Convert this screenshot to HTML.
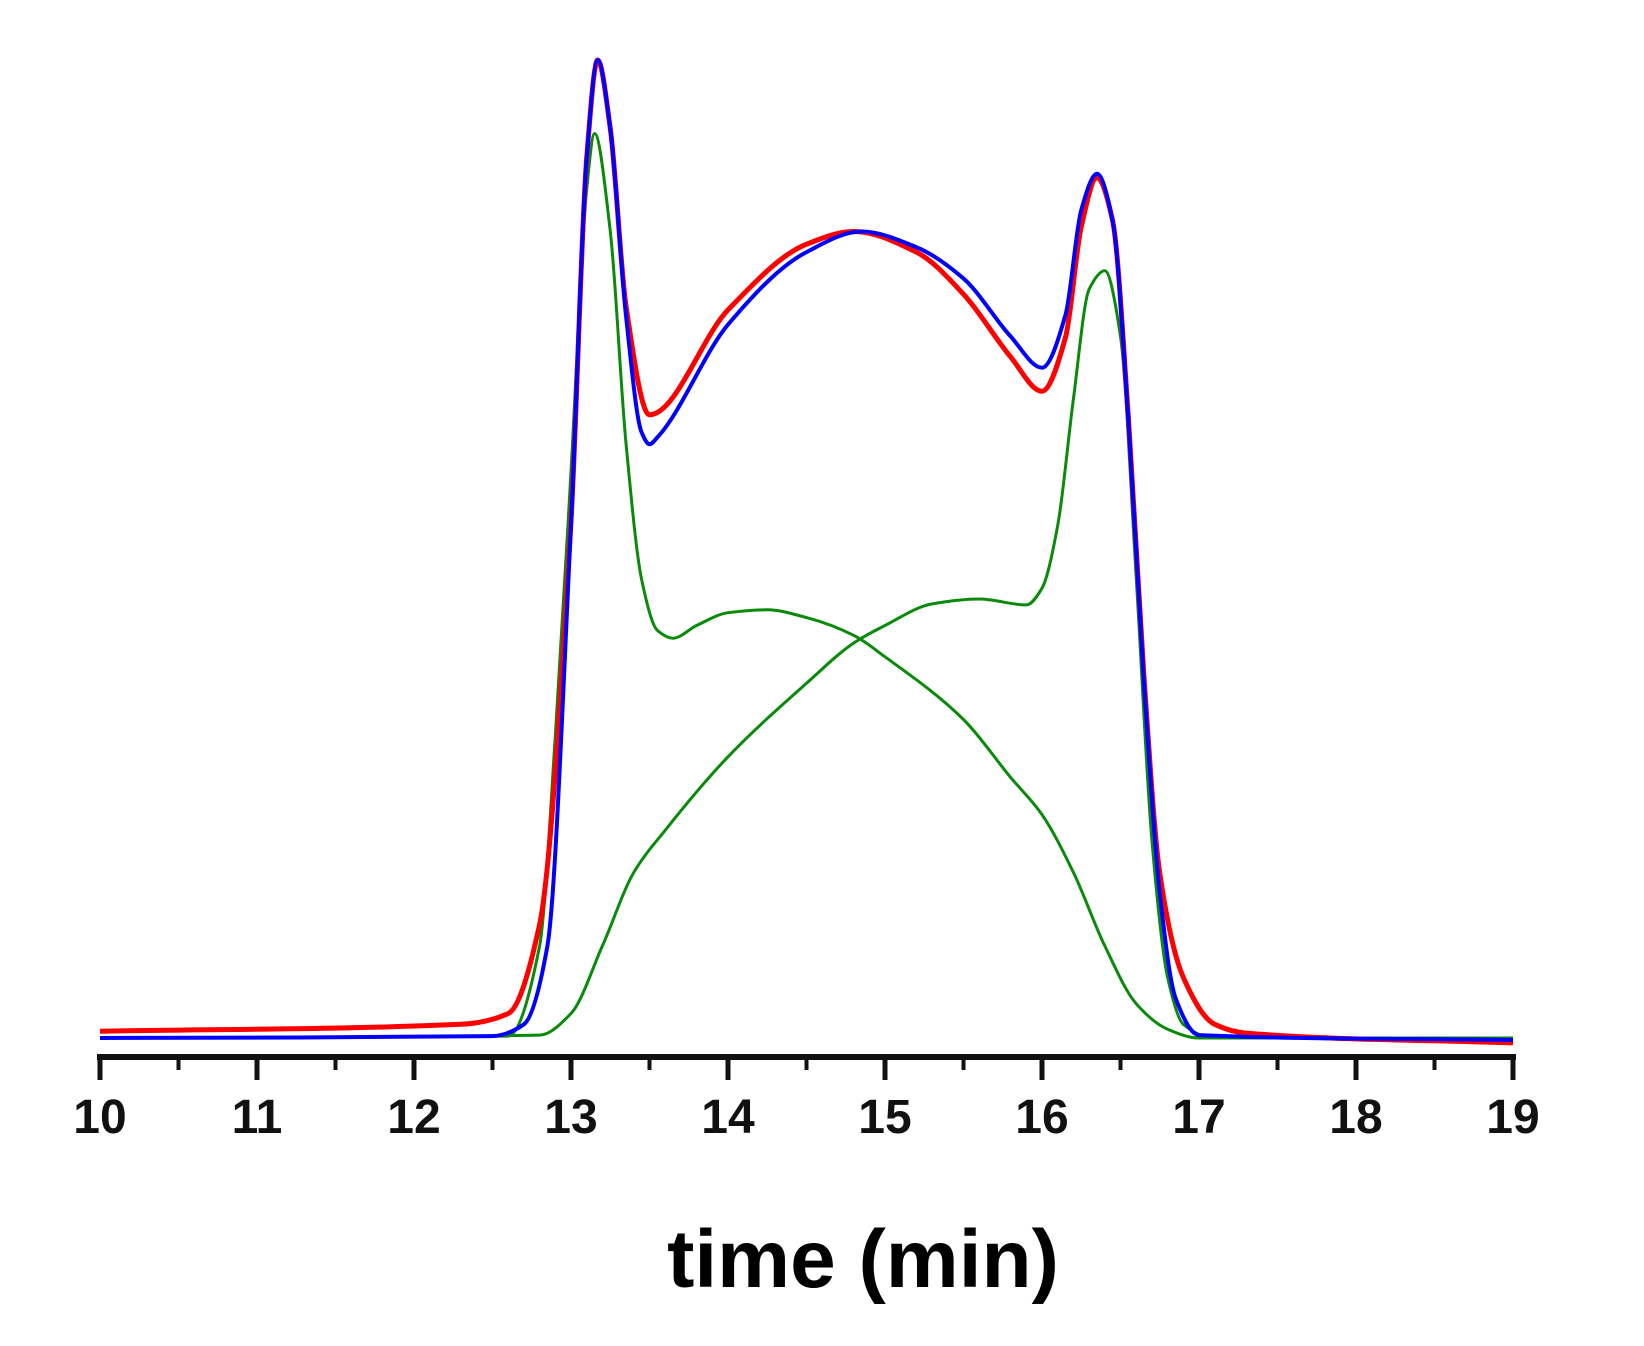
<!DOCTYPE html>
<html><head><meta charset="utf-8"><style>
html,body{margin:0;padding:0;background:#fff}
svg{display:block}
</style></head><body>
<svg id="chart" width="1644" height="1346" viewBox="0 0 1644 1346" xmlns="http://www.w3.org/2000/svg">
<g id="series"></g>
<g id="axis"></g>
<text x="863" y="1287" text-anchor="middle" font-family="Liberation Sans, sans-serif" font-weight="bold" font-size="82">time (min)</text>
</svg>
<script>
const xTicks = [10,11,12,13,14,15,16,17,18,19];
const blueT = [10,12.5,12.7,12.85,13.0,13.1,13.17,13.25,13.35,13.45,13.5,13.55,14,14.5,14.85,15.2,15.5,15.8,16.0,16.15,16.25,16.35,16.45,16.55,16.65,16.75,16.85,17.0,19];
const blueV = [0.2,0.4,1.6,9.6,52.5,90,100,93,74,62,60.8,61.5,73,80.4,82.5,80.9,77.7,71.8,68.6,74,84.7,88.4,83.6,63.2,36.4,15,4.3,0.5,0];
const redT = [10,12.3,12.6,12.8,13.0,13.1,13.17,13.25,13.35,13.5,14,14.5,14.8,15.2,15.5,15.8,16.0,16.15,16.25,16.35,16.45,16.55,16.65,16.75,16.9,17.1,17.3,19];
const redV = [0.9,1.6,2.7,11.8,53,90,100,93,75,63.8,74.5,81.2,82.5,80.4,76.1,69.7,66.2,71.7,83,88,83.6,63.5,37,17,6.4,1.6,0.7,-0.3];
const g1T = [10,12.6,12.8,12.9,13.0,13.1,13.15,13.25,13.35,13.45,13.55,13.65,13.8,14.0,14.25,14.5,14.8,15.0,15.5,15.8,16.0,16.2,16.4,16.6,16.8,17,19];
const g1V = [0.2,0.4,9.6,31,58,86.8,92.5,82.5,61,47,41.8,41,42.3,43.6,43.9,43.1,41.3,39.1,32.7,26.8,23,17.1,9.6,3.7,1.1,0.2,0.2];
const g2T = [10,12.8,13.0,13.2,13.4,13.6,14.0,14.5,14.8,15.0,15.3,15.6,15.9,16.0,16.1,16.2,16.3,16.4,16.5,16.6,16.7,16.8,16.9,17.1,19];
const g2V = [0.2,0.5,2.7,9.6,17.1,21.4,28.9,36.4,40.5,42.3,44.5,45,44.4,46.1,52.5,65.4,76.6,78.5,71.8,47.2,20.4,6.4,1.6,0.2,0.2];

const NS='http://www.w3.org/2000/svg';
function xs(t){return 100+(t-10)*157;}
function ys(v){return 1040-v*9.8;}
function pathFor(T,V){
  const x=T.map(xs), y=V.map(ys), n=x.length;
  const dl=[],m=[];
  for(let i=0;i<n-1;i++) dl.push((y[i+1]-y[i])/(x[i+1]-x[i]));
  m[0]=dl[0]; m[n-1]=dl[n-2];
  for(let i=1;i<n-1;i++){
    if(dl[i-1]*dl[i]<=0) m[i]=0;
    else { const w1=2*(x[i+1]-x[i])+(x[i]-x[i-1]), w2=(x[i+1]-x[i])+2*(x[i]-x[i-1]);
      m[i]=(w1+w2)/(w1/dl[i-1]+w2/dl[i]); }
  }
  let d='M'+x[0].toFixed(1)+','+y[0].toFixed(1);
  for(let i=0;i<n-1;i++){
    const h=x[i+1]-x[i];
    d+=' C'+(x[i]+h/3).toFixed(1)+','+(y[i]+m[i]*h/3).toFixed(1)+' '+(x[i+1]-h/3).toFixed(1)+','+(y[i+1]-m[i+1]*h/3).toFixed(1)+' '+x[i+1].toFixed(1)+','+y[i+1].toFixed(1);
  }
  return d;
}
const series=document.getElementById('series');
function addLine(T,V,color,w,name){
  const el=document.createElementNS(NS,'path');
  el.setAttribute('d',pathFor(T,V));
  el.setAttribute('fill','none');
  el.setAttribute('stroke',color);
  el.setAttribute('stroke-width',w);
  el.setAttribute('stroke-linejoin','round');
  
  
  series.appendChild(el);
}
addLine(g1T,g1V,'#0a8a0a',3,'fit-peak-1-line');
addLine(g2T,g2V,'#0a8a0a',3,'fit-peak-2-line');
addLine(redT,redV,'#ff0000',5,'measured-red-line');
addLine(blueT,blueV,'#0000ff',4,'fit-sum-blue-line');

const axis=document.getElementById('axis');
const line=document.createElementNS(NS,'line');
line.setAttribute('x1',97);line.setAttribute('x2',1516);
line.setAttribute('y1',1057);line.setAttribute('y2',1057);
line.setAttribute('stroke','#111');line.setAttribute('stroke-width',6);


axis.appendChild(line);
xTicks.forEach((t,i)=>{
  const tk=document.createElementNS(NS,'line');
  tk.setAttribute('x1',xs(t));tk.setAttribute('x2',xs(t));
  tk.setAttribute('y1',1057);tk.setAttribute('y2',1080);
  tk.setAttribute('stroke','#111');tk.setAttribute('stroke-width',5);
  
  
  axis.appendChild(tk);
  if(i<xTicks.length-1){
    const mt=document.createElementNS(NS,'line');
    mt.setAttribute('x1',xs(t+0.5));mt.setAttribute('x2',xs(t+0.5));
    mt.setAttribute('y1',1057);mt.setAttribute('y2',1070);
    mt.setAttribute('stroke','#111');mt.setAttribute('stroke-width',4);
    
    
    axis.appendChild(mt);
  }
  const lb=document.createElementNS(NS,'text');
  lb.setAttribute('x',xs(t));lb.setAttribute('y',1133);
  lb.setAttribute('text-anchor','middle');
  lb.setAttribute('font-family','Liberation Sans, sans-serif');
  lb.setAttribute('font-weight','bold');
  lb.setAttribute('font-size','48');
  lb.setAttribute('fill','#111');
  lb.textContent=String(t);
  
  
  axis.appendChild(lb);
});
</script>
</body></html>
